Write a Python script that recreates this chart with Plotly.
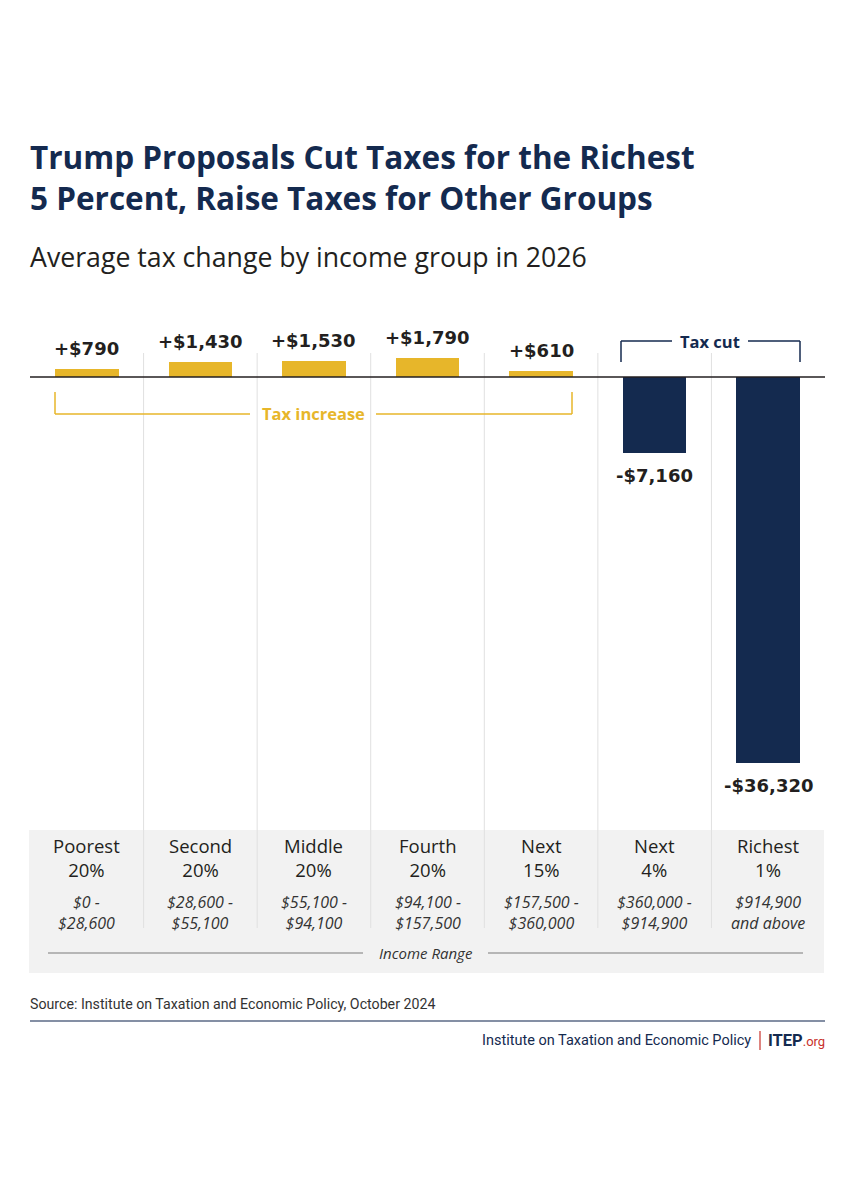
import plotly.graph_objects as go

# ---------------- data ----------------
group_names = ["Poorest", "Second", "Middle", "Fourth", "Next", "Next", "Richest"]
group_shares = ["20%", "20%", "20%", "20%", "15%", "4%", "1%"]
range_low = ["$0 -", "$28,600 -", "$55,100 -", "$94,100 -", "$157,500 -", "$360,000 -", "$914,900"]
range_high = ["$28,600", "$55,100", "$94,100", "$157,500", "$360,000", "$914,900", "and above"]
tax_change = [790, 1430, 1530, 1790, 610, -7160, -36320]

# ---------------- style ----------------
W, H = 855, 1200
NAVY = "#142a4f"
GOLD = "#E7B62A"
INK = "#231f20"
RED = "#c8322b"
HEAD_FONT = "Open Sans"
SMALL_FONT = "Roboto"
BODY_FONT = "Open Sans"
VALUE_FONT = "DejaVu Sans"

def px(x):
    return x / W

def py(y):
    return 1 - y / H

n = len(tax_change)
idx = list(range(n))
left_px, right_px, base_px = 30, 825, 377
cw = (right_px - left_px) / n
k = 386 / 36320.0  # pixels per dollar
x_range = [-0.5 - left_px / cw, n - 0.5 + (W - right_px) / cw]
y_range = [-(H - base_px) / k, base_px / k]

def fmt(v):
    s = "${:,}".format(abs(v))
    return ("+" if v > 0 else "-") + s

fig = go.Figure()
fig.add_trace(go.Bar(
    x=idx, y=tax_change, width=0.56,
    marker=dict(color=[GOLD if v > 0 else NAVY for v in tax_change], line=dict(width=0)),
    hoverinfo="skip",
))

shapes = []
annotations = []

# gray label panel
shapes.append(dict(type="rect", xref="paper", yref="paper",
                   x0=px(29), x1=px(824), y0=py(973), y1=py(830),
                   fillcolor="#f2f2f2", line=dict(width=0), layer="below"))
# vertical dividers
for i in range(n - 1):
    shapes.append(dict(type="line", xref="x", yref="paper",
                       x0=i + 0.5, x1=i + 0.5, y0=py(928), y1=py(353),
                       line=dict(color="#e0e0e0", width=1), layer="below"))
# baseline
shapes.append(dict(type="line", xref="paper", yref="y",
                   x0=px(left_px), x1=px(right_px), y0=0, y1=0,
                   line=dict(color=INK, width=1.5), layer="above"))

# value labels
for i, v in enumerate(tax_change):
    annotations.append(dict(
        x=i, y=v, xref="x", yref="y", text=fmt(v), showarrow=False,
        yanchor="bottom" if v > 0 else "top", yshift=8 if v > 0 else -10,
        font=dict(family=VALUE_FONT, size=18, color=INK, weight="bold"),
    ))

def seg(x0, y0, x1, y1, color, width=1.5):
    shapes.append(dict(type="line", xref="paper", yref="paper",
                       x0=px(x0), x1=px(x1), y0=py(y0), y1=py(y1),
                       line=dict(color=color, width=width)))

# Tax increase bracket
seg(55, 392, 55, 414, GOLD)
seg(55, 414, 250, 414, GOLD)
seg(376, 414, 572, 414, GOLD)
seg(572, 414, 572, 392, GOLD)
annotations.append(dict(x=px(313), y=py(414), xref="paper", yref="paper",
                        text="<b>Tax increase</b>", showarrow=False,
                        xanchor="center", yanchor="middle",
                        font=dict(family=HEAD_FONT, size=16.5, color=GOLD)))

# Tax cut bracket
seg(621, 362, 621, 341, NAVY)
seg(621, 341, 672, 341, NAVY)
seg(748, 341, 800, 341, NAVY)
seg(800, 341, 800, 362, NAVY)
annotations.append(dict(x=px(710), y=py(341), xref="paper", yref="paper",
                        text="<b>Tax cut</b>", showarrow=False,
                        xanchor="center", yanchor="middle",
                        font=dict(family=HEAD_FONT, size=16.5, color=NAVY)))

# category labels (group name + share, income range)
for i in idx:
    annotations.append(dict(x=i, y=py(857.5), xref="x", yref="paper",
                            text=group_names[i] + "<br>" + group_shares[i],
                            showarrow=False, yanchor="middle",
                            font=dict(family=BODY_FONT, size=18.5, color=INK)))
    annotations.append(dict(x=i, y=py(912), xref="x", yref="paper",
                            text="<i>" + range_low[i] + "<br>" + range_high[i] + "</i>",
                            showarrow=False, yanchor="middle",
                            font=dict(family=BODY_FONT, size=16, color="#333333")))

# Income Range axis label
seg(48, 953, 363, 953, "#7a7a7a", 1.2)
seg(488, 953, 803, 953, "#7a7a7a", 1.2)
annotations.append(dict(x=px(426), y=py(953), xref="paper", yref="paper",
                        text="<i>Income Range</i>", showarrow=False,
                        xanchor="center", yanchor="middle",
                        font=dict(family=BODY_FONT, size=15, color="#333333")))

# Title and subtitle
annotations.append(dict(x=px(28), y=py(176.5), xref="paper", yref="paper",
                        text="<b>Trump Proposals Cut Taxes for the Richest<br>5 Percent, Raise Taxes for Other Groups</b>",
                        showarrow=False, xanchor="left", yanchor="middle", align="left",
                        font=dict(family=HEAD_FONT, size=31.5, color=NAVY)))
annotations.append(dict(x=px(28), y=py(256), xref="paper", yref="paper",
                        text="Average tax change by income group in 2026", showarrow=False,
                        xanchor="left", yanchor="middle",
                        font=dict(family=HEAD_FONT, size=26.7, color=INK)))

# Source
annotations.append(dict(x=px(28), y=py(1004), xref="paper", yref="paper",
                        text="Source: Institute on Taxation and Economic Policy, October 2024",
                        showarrow=False, xanchor="left", yanchor="middle",
                        font=dict(family=SMALL_FONT, size=14.2, color="#333333")))
seg(30, 1021, 825, 1021, "#5b6a86", 1.5)

# Footer
annotations.append(dict(x=px(753), y=py(1040), xref="paper", yref="paper",
                        text="Institute on Taxation and Economic Policy",
                        showarrow=False, xanchor="right", yanchor="middle",
                        font=dict(family=SMALL_FONT, size=14.5, color=NAVY)))
seg(760, 1031, 760, 1050, RED, 1.2)
annotations.append(dict(x=px(766), y=py(1040), xref="paper", yref="paper",
                        text="<b>ITEP</b><span style='color:" + RED + ";font-size:13px'>.org</span>",
                        showarrow=False, xanchor="left", yanchor="middle",
                        font=dict(family=SMALL_FONT, size=16.5, color=NAVY)))

fig.update_layout(
    width=W, height=H,
    margin=dict(l=0, r=0, t=0, b=0),
    paper_bgcolor="white", plot_bgcolor="white",
    showlegend=False,
    xaxis=dict(range=x_range, visible=False, fixedrange=True),
    yaxis=dict(range=y_range, visible=False, fixedrange=True),
    shapes=shapes, annotations=annotations,
    bargap=0,
)

fig.write_html("out.html")
